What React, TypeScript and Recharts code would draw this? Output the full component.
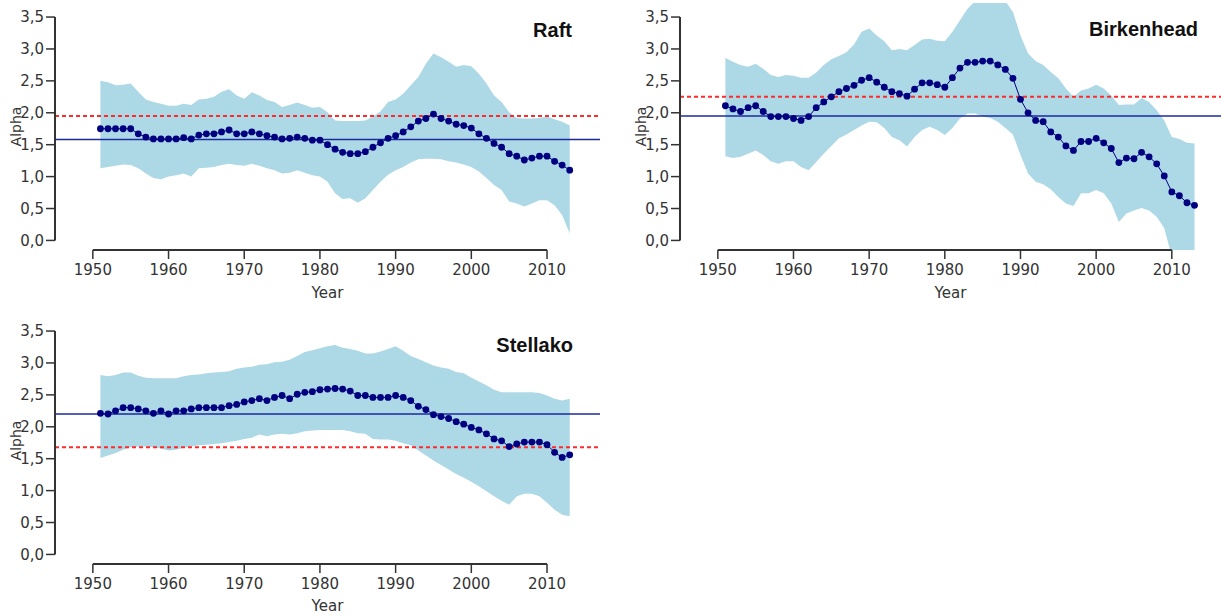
import React from 'react';
import { ComposedChart, Area, Line, XAxis, YAxis, ReferenceLine } from 'recharts';

const years = [
  1951, 1952, 1953, 1954, 1955, 1956, 1957, 1958, 1959, 1960,
  1961, 1962, 1963, 1964, 1965, 1966, 1967, 1968, 1969, 1970,
  1971, 1972, 1973, 1974, 1975, 1976, 1977, 1978, 1979, 1980,
  1981, 1982, 1983, 1984, 1985, 1986, 1987, 1988, 1989, 1990,
  1991, 1992, 1993, 1994, 1995, 1996, 1997, 1998, 1999, 2000,
  2001, 2002, 2003, 2004, 2005, 2006, 2007, 2008, 2009, 2010,
  2011, 2012, 2013,
];

// Raft
const raftMean = [
  1.75, 1.75, 1.75, 1.75, 1.75, 1.67, 1.62, 1.59, 1.59, 1.59,
  1.59, 1.61, 1.59, 1.65, 1.67, 1.67, 1.7, 1.73, 1.67, 1.67,
  1.7, 1.67, 1.64, 1.62, 1.59, 1.6, 1.62, 1.6, 1.57, 1.57,
  1.5, 1.43, 1.38, 1.36, 1.36, 1.39, 1.46, 1.53, 1.6, 1.64,
  1.7, 1.78, 1.87, 1.91, 1.98, 1.91, 1.87, 1.82, 1.8, 1.76,
  1.67, 1.6, 1.52, 1.46, 1.36, 1.32, 1.26, 1.29, 1.32, 1.32,
  1.24, 1.18, 1.1,
];
const raftHigh = [
  2.5, 2.48, 2.43, 2.44, 2.46, 2.33, 2.21, 2.17, 2.14, 2.11,
  2.11, 2.14, 2.12, 2.21, 2.22, 2.25, 2.33, 2.37, 2.27, 2.22,
  2.32, 2.27, 2.2, 2.17, 2.09, 2.12, 2.16, 2.12, 2.08, 2.09,
  2.01, 1.88, 1.87, 1.87, 1.87, 1.88, 1.94, 2.02, 2.17, 2.21,
  2.3, 2.43, 2.56, 2.77, 2.93, 2.87, 2.8, 2.72, 2.75, 2.73,
  2.61, 2.46, 2.27, 2.17, 2.01, 1.92, 1.91, 1.91, 1.92, 1.94,
  1.9, 1.86, 1.8,
];
const raftLow = [
  1.13, 1.15, 1.17, 1.19, 1.18, 1.13, 1.05, 0.98, 0.96, 1.0,
  1.02, 1.05, 1.0, 1.13, 1.14, 1.15, 1.18, 1.2, 1.18, 1.17,
  1.2, 1.17, 1.13, 1.1, 1.05, 1.06, 1.1, 1.06, 1.02, 1.0,
  0.92, 0.74, 0.65, 0.66, 0.59, 0.66, 0.79, 0.92, 1.03, 1.1,
  1.15, 1.22, 1.27, 1.28, 1.28, 1.27, 1.24, 1.22, 1.19, 1.15,
  1.08, 0.98, 0.87, 0.79, 0.61, 0.58, 0.53, 0.58, 0.63, 0.63,
  0.55, 0.4, 0.11,
];

// Birkenhead
const birkMean = [
  2.11, 2.06, 2.02, 2.08, 2.11, 2.02, 1.94, 1.94, 1.94, 1.91,
  1.88, 1.94, 2.08, 2.17, 2.25, 2.33, 2.38, 2.43, 2.51, 2.55,
  2.48, 2.4, 2.33, 2.3, 2.26, 2.37, 2.47, 2.47, 2.44, 2.4,
  2.55, 2.7, 2.79, 2.79, 2.81, 2.81, 2.75, 2.68, 2.54, 2.21,
  2.0, 1.88, 1.86, 1.7, 1.62, 1.48, 1.41, 1.55, 1.55, 1.6,
  1.53, 1.44, 1.22, 1.29, 1.28, 1.38, 1.31, 1.2, 1.01, 0.76,
  0.7, 0.59, 0.55,
];
const birkHigh = [
  2.86, 2.8, 2.75, 2.72, 2.77, 2.69, 2.59, 2.56, 2.59, 2.58,
  2.55, 2.55, 2.63, 2.75, 2.84, 2.89, 2.95, 3.07, 3.27, 3.32,
  3.21, 3.12, 2.98, 3.0, 2.98, 3.06, 3.15, 3.16, 3.13, 3.12,
  3.27, 3.45, 3.63, 3.75, 3.8, 3.8, 3.8, 3.75, 3.58, 3.21,
  2.93, 2.81, 2.75, 2.64, 2.54, 2.38, 2.25, 2.35, 2.38, 2.44,
  2.38, 2.27, 2.12, 2.13, 2.13, 2.23, 2.17, 2.04, 1.88, 1.62,
  1.59, 1.53, 1.52,
];
const birkLow = [
  1.32, 1.29, 1.31, 1.36, 1.41, 1.34, 1.24, 1.2, 1.24, 1.24,
  1.15, 1.1, 1.23, 1.36, 1.48, 1.6, 1.66, 1.73, 1.8, 1.86,
  1.85, 1.76, 1.62, 1.57, 1.47, 1.62, 1.73, 1.78, 1.73, 1.65,
  1.76, 1.91, 1.99, 1.99, 1.94, 1.92, 1.86, 1.76, 1.66, 1.34,
  1.05, 0.92, 0.88, 0.8, 0.68, 0.58, 0.54, 0.74, 0.74, 0.79,
  0.74, 0.58, 0.29, 0.42, 0.47, 0.51, 0.47, 0.37, 0.19, -0.25,
  -0.4, -0.5, -0.5,
];

// Stellako
const stelMean = [
  2.21, 2.2, 2.25, 2.3, 2.3, 2.28, 2.25, 2.21, 2.25, 2.2,
  2.25, 2.25, 2.28, 2.3, 2.3, 2.3, 2.3, 2.33, 2.35, 2.39,
  2.41, 2.44, 2.41, 2.46, 2.49, 2.44, 2.51, 2.54, 2.55, 2.58,
  2.59, 2.6, 2.59, 2.56, 2.49, 2.49, 2.46, 2.46, 2.46, 2.49,
  2.46, 2.41, 2.32, 2.27, 2.19, 2.16, 2.13, 2.08, 2.04, 1.99,
  1.95, 1.89, 1.81, 1.78, 1.69, 1.73, 1.76, 1.76, 1.76, 1.72,
  1.6, 1.52, 1.56,
];
const stelHigh = [
  2.81, 2.79, 2.81, 2.85, 2.85, 2.8, 2.77, 2.76, 2.76, 2.76,
  2.76, 2.79, 2.81, 2.82, 2.84, 2.85, 2.86, 2.87, 2.91, 2.93,
  2.94, 2.97, 2.98, 3.01, 3.02, 3.05, 3.11, 3.17, 3.2, 3.23,
  3.26, 3.28, 3.24, 3.22, 3.19, 3.15, 3.15, 3.18, 3.22, 3.26,
  3.19, 3.11, 3.06, 3.01, 2.96, 2.93, 2.91, 2.86, 2.84, 2.77,
  2.71, 2.65, 2.58, 2.54, 2.54, 2.54, 2.54, 2.54, 2.53, 2.49,
  2.44, 2.41, 2.44,
];
const stelLow = [
  1.51, 1.55, 1.59, 1.64, 1.68, 1.69, 1.69, 1.68, 1.66, 1.63,
  1.64, 1.67, 1.69, 1.71, 1.72, 1.73, 1.74, 1.76, 1.78, 1.81,
  1.83, 1.88, 1.85, 1.88, 1.89, 1.88, 1.9, 1.93, 1.94, 1.95,
  1.95, 1.95, 1.95, 1.93, 1.9, 1.89, 1.81, 1.8, 1.8, 1.78,
  1.74, 1.71, 1.63, 1.55, 1.47, 1.4, 1.33, 1.26, 1.2, 1.14,
  1.07, 0.99, 0.91, 0.84, 0.78, 0.91, 0.95, 0.95, 0.91, 0.81,
  0.7, 0.62, 0.6,
];

const xTicks = [1950, 1960, 1970, 1980, 1990, 2000, 2010];
const yTicks = [0, 0.5, 1, 1.5, 2, 2.5, 3, 3.5];

const axisColor = '#333';
const font = 'DejaVu Sans, Verdana, sans-serif';

const fmt = (v: number) => v.toFixed(1).replace('.', ',');

const buildRows = (mean: number[], low: number[], high: number[]) =>
  years.map((year, i) => ({ year, mean: mean[i], band: [low[i], high[i]] }));

interface PanelProps {
  rows: { year: number; mean: number; band: number[] }[];
  solid: number;
  dashed: number;
  xMax: number;
  width: number;
  height: number;
  labelOffset: number;
}

// plot area is always 247px tall; the x axis box takes whatever is left
const Panel: React.FC<PanelProps> = ({ rows, solid, dashed, xMax, width, height, labelOffset }) => (
  <ComposedChart width={width} height={height} data={rows} margin={{ top: 3, right: 0, bottom: 0, left: 10 }}>
    <XAxis
      dataKey="year"
      type="number"
      domain={[1945, xMax]}
      ticks={xTicks}
      allowDataOverflow
      axisLine={false}
      tickLine={{ stroke: axisColor, strokeWidth: 1.5 }}
      tickSize={9}
      tickMargin={5}
      height={height - 250}
      tick={{ fill: axisColor, fontSize: 15, fontFamily: font }}
      label={{ value: 'Year', position: 'insideBottom', offset: labelOffset, fill: axisColor, fontSize: 15, fontFamily: font }}
    />
    <YAxis
      type="number"
      domain={[-0.15, 3.72]}
      ticks={yTicks}
      allowDataOverflow
      width={45}
      axisLine={false}
      tickLine={{ stroke: axisColor, strokeWidth: 1.5 }}
      tickSize={9}
      tickMargin={2}
      tickFormatter={fmt}
      tick={{ fill: axisColor, fontSize: 15, fontFamily: font }}
      label={{
        value: 'Alpha',
        angle: -90,
        position: 'insideLeft',
        offset: 6,
        textAnchor: 'middle',
        style: { textAnchor: 'middle' },
        fill: axisColor,
        fontSize: 14,
        fontFamily: font,
      }}
    />
    <Area dataKey="band" type="linear" stroke="none" fill="#add8e6" fillOpacity={1} isAnimationActive={false} />
    <ReferenceLine y={solid} stroke="#1c2a9c" strokeWidth={1.5} />
    <ReferenceLine y={dashed} stroke="#ff2a2a" strokeWidth={2} strokeDasharray="4 3" />
    <ReferenceLine segment={[{ x: 1945, y: 0 }, { x: 1945, y: 3.5 }]} stroke={axisColor} strokeWidth={2} />
    <ReferenceLine segment={[{ x: 1950, y: -0.15 }, { x: 2010, y: -0.15 }]} stroke={axisColor} strokeWidth={2} />
    <Line
      dataKey="mean"
      type="linear"
      stroke="#000080"
      strokeWidth={1}
      dot={{ r: 3.4, fill: '#000080', stroke: '#000080', strokeWidth: 0 }}
      isAnimationActive={false}
    />
  </ComposedChart>
);

const titleStyle = { fontFamily: 'Liberation Sans, Arial, sans-serif', fontWeight: 700, fontSize: 20, fill: '#111' };

export default function App() {
  return (
    <div style={{ position: 'absolute', left: 0, top: 0, width: 1221, height: 616, background: '#fff', overflow: 'hidden' }}>
      <div style={{ position: 'absolute', left: 0, top: 0 }}>
        <Panel rows={buildRows(raftMean, raftLow, raftHigh)} solid={1.58} dashed={1.95} xMax={2017} width={600} height={310} labelOffset={12} />
      </div>
      <div style={{ position: 'absolute', left: 625, top: 0 }}>
        <Panel rows={buildRows(birkMean, birkLow, birkHigh)} solid={1.95} dashed={2.25} xMax={2016.5} width={596} height={310} labelOffset={12} />
      </div>
      <div style={{ position: 'absolute', left: 0, top: 314 }}>
        <Panel rows={buildRows(stelMean, stelLow, stelHigh)} solid={2.2} dashed={1.68} xMax={2017} width={600} height={302} labelOffset={5} />
      </div>
      <svg width={1221} height={616} style={{ position: 'absolute', left: 0, top: 0, pointerEvents: 'none' }}>
        <text x={572} y={37} textAnchor="end" style={titleStyle}>Raft</text>
        <text x={1198} y={36} textAnchor="end" style={titleStyle}>Birkenhead</text>
        <text x={573} y={352} textAnchor="end" style={titleStyle}>Stellako</text>
      </svg>
    </div>
  );
}
